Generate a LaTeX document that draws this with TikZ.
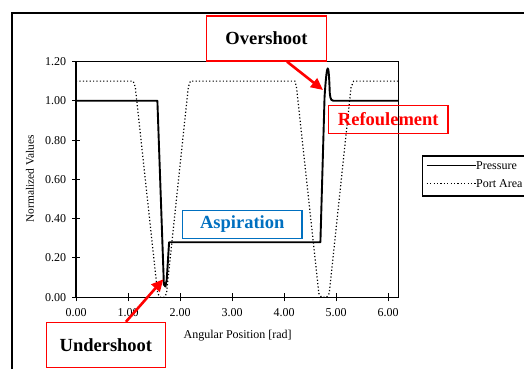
\documentclass[tikz,border=0pt]{standalone}
\usepackage{fontspec}
\setmainfont{Liberation Serif}
\usetikzlibrary{arrows.meta, positioning}
\definecolor{annred}{RGB}{255,0,0}
\definecolor{annblue}{RGB}{0,112,192}

\begin{document}
\begin{tikzpicture}[x=1pt, y=1pt]
\tikzstyle{note} = [draw=annred, line width=1.3pt, minimum width=119.5pt, inner sep=0pt, font=\fontsize{18.5}{20}\selectfont\bfseries]
\tikzstyle{tall} = [minimum height=45pt]
\tikzstyle{flat} = [minimum height=28pt]
\tikzstyle{pointer} = [-{Triangle[length=12pt, width=11pt]}, line width=2.6pt, draw=annred]
\tikzstyle{press} = [line width=1.9pt, line join=round]
\tikzstyle{port} = [line width=1.2pt, dash pattern=on 1.2pt off 2.2pt]
\tikzstyle{lab} = [inner sep=0pt, font=\fontsize{12}{14}\selectfont]
\useasboundingbox (0,0) rectangle (524,369);
\fill[white] (0,0) rectangle (524,369);
\draw[line width=2pt] (12,0) -- (12,356.3) -- (524,356.3);
% plot area
\begin{scope}[shift={(76,71.7)}, x=52pt, y=196.5pt]
  \draw[line width=1.3pt] (0,0) rectangle (6.2,1.2);
  \foreach \v/\t in {0/0.00, 0.2/0.20, 0.4/0.40, 0.6/0.60, 0.8/0.80, 1/1.00, 1.2/1.20}
    \draw[line width=1pt] ([xshift=-4pt]0,\v) -- ([xshift=4pt]0,\v)
      node[lab, anchor=east] at ([xshift=-9.3pt]0,\v) {\t};
  \foreach \u in {0,...,6}
    \draw[line width=1pt] ([yshift=-4pt]\u,0) -- ([yshift=4pt]\u,0)
      node[lab] at ([yshift=-15.4pt]\u,0) {\u.00};
  % port area
  \draw[port] (0,1.1) -- (1.10,1.1) -- (1.14,1.07) -- (1.57,0.02) -- (1.62,0)
    -- (1.70,0) -- (1.74,0.02) -- (2.16,1.07) -- (2.2,1.1) -- (4.21,1.1)
    -- (4.24,1.07) -- (4.67,0.02) -- (4.72,0) -- (4.82,0) -- (4.87,0.02)
    -- (5.29,1.07) -- (5.34,1.1) -- (6.2,1.1);
  % pressure
  \draw[press] (0,1) -- (1.565,1) -- (1.69,0.065) -- (1.72,0.055) -- (1.745,0.09)
    -- (1.79,0.28) -- (4.70,0.28) -- (4.78,1.02)
    .. controls (4.83,1.22) and (4.86,1.2) .. (4.88,1.04)
    .. controls (4.9,1.0) .. (5.0,1.0) -- (6.2,1.0);
  \coordinate (overtip) at (4.75,1.055);
  \coordinate (undertip) at (1.68,0.092);
\end{scope}
\node[lab, rotate=90, font=\fontsize{11.4}{13}\selectfont] (ylab) at (30,190) {Normalized Values};
\node[lab] (xlab) at (237.7,33.3) {Angular Position [rad]};
% legend
\draw[line width=1.5pt] (524,213) -- (422.7,213) -- (422.7,173) -- (524,173);
\coordinate (leg1) at (426.7,203.3);
\coordinate (leg2) at (426.7,185.7);
\node[lab, anchor=west] (presslab) at (476,203.3) {Pressure};
\node[lab, anchor=west] (portlab) at (476,185.7) {Port Area};
\draw[press, line width=1.2pt] (leg1) -- (presslab.west);
\draw[port, line width=1pt] (leg2) -- (portlab.west);
% annotations
\node[note, tall] (over) at (266.5,330.5) {Overshoot};
\node[note, flat, text=annred] (refoul) at (388.3,249.8) {Refoulement};
\node[note, flat, draw=annblue, text=annblue] (aspi) at (242.2,144.8) {Aspiration};
\node[note, tall] (under) at (105.9,24) {Undershoot};
\draw[pointer] ([xshift=20.5pt]over.south) -- (overtip);
\draw[pointer] ([xshift=20pt]under.north) -- (undertip);
\end{tikzpicture}
\end{document}
